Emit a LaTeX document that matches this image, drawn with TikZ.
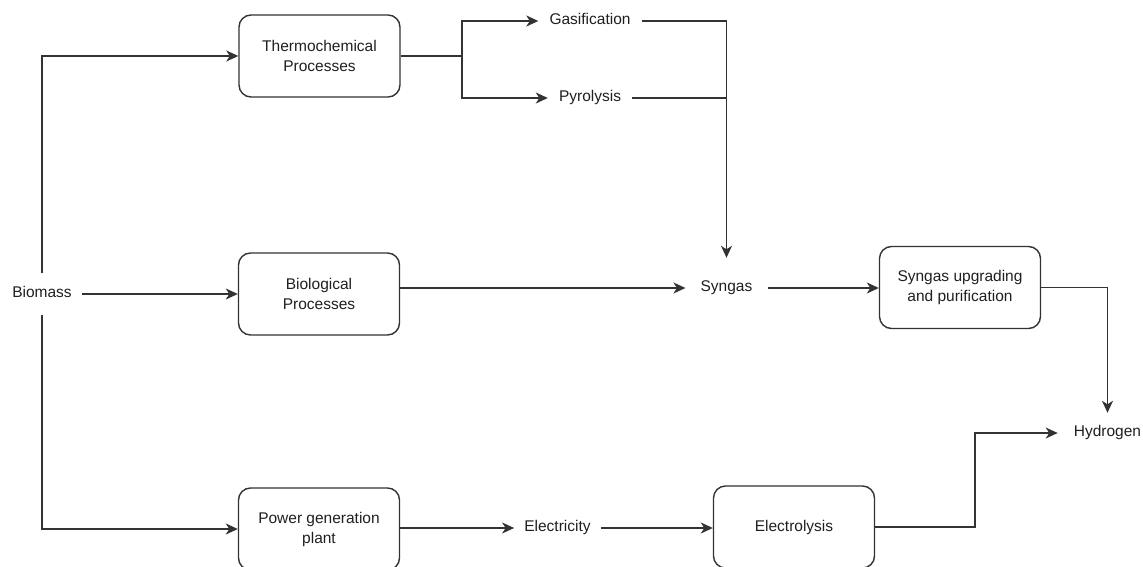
\documentclass[tikz,border=0pt]{standalone}
\usepackage{fontspec}
\setmainfont{Liberation Sans}
\usetikzlibrary{arrows.meta}
\begin{document}
\begin{tikzpicture}[x=1pt,y=-1pt,
  every node/.style={font=\fontsize{15.5}{20}\selectfont, text=black!88},
  procbox/.style={draw=black!80, line width=1.4pt, rounded corners=12pt,
    minimum width=161pt, minimum height=82pt, align=center, inner sep=0pt},
  lbl/.style={inner xsep=11pt, inner ysep=8pt, text height=11pt, text depth=3.5pt},
  conn/.style={draw=black!80, line width=1.4pt},
  arr/.style={conn, -{Stealth[length=12pt,width=11pt,inset=3.5pt]}}]
\useasboundingbox (0,0) rectangle (1143,567);

% boxes
\node[procbox] (thermo) at (319.5,56) {Thermochemical\\Processes};
\node[procbox] (bio) at (319,294) {Biological\\Processes};
\node[procbox] (power) at (319,529) {Power generation\\plant};
\node[procbox] (elec) at (794,527) {Electrolysis};
\node[procbox] (upg) at (960,287.5) {Syngas upgrading\\and purification};

% text nodes
\node[lbl, inner xsep=10pt, inner ysep=14pt] (biomass) at (42,294) {Biomass};
\node[lbl] (gas) at (590,21) {Gasification};
\node[lbl] (pyro) at (590,98) {Pyrolysis};
\node[lbl, inner xsep=15pt, inner ysep=22.75pt] (syngas) at (726.5,288) {Syngas};
\node[lbl, inner xsep=16pt, inner ysep=12.75pt] (hyd) at (1107.5,433) {Hydrogen};
\node[lbl, inner xsep=10pt] (elecy) at (557.5,528) {Electricity};

\coordinate (br) at (462,56);
\coordinate (jv) at (975,433);

% connectors
\draw[arr] (biomass.north) |- (thermo.west);
\draw[arr] (biomass.east) -- (bio.west);
\draw[arr] (biomass.south) |- (power.west);

\draw[conn] (thermo.east) -- (br);
\draw[arr] (br) |- (gas.west);
\draw[arr] (br) |- (pyro.west);

\draw[arr] (gas.east) -| (syngas.north);
\draw[conn] (pyro.east) -- (syngas.north |- pyro.east);

\draw[arr] (bio.east |- syngas.west) -- (syngas.west);
\draw[arr] (syngas.east) -- (upg.west |- syngas.east);
\draw[arr] (upg.east) -| (hyd.north);

\draw[arr] (power.east |- elecy.west) -- (elecy.west);
\draw[arr] (elecy.east) -- (elec.west |- elecy.east);
\draw[arr] (elec.east) -| (jv) -- (hyd.west);
\end{tikzpicture}
\end{document}
